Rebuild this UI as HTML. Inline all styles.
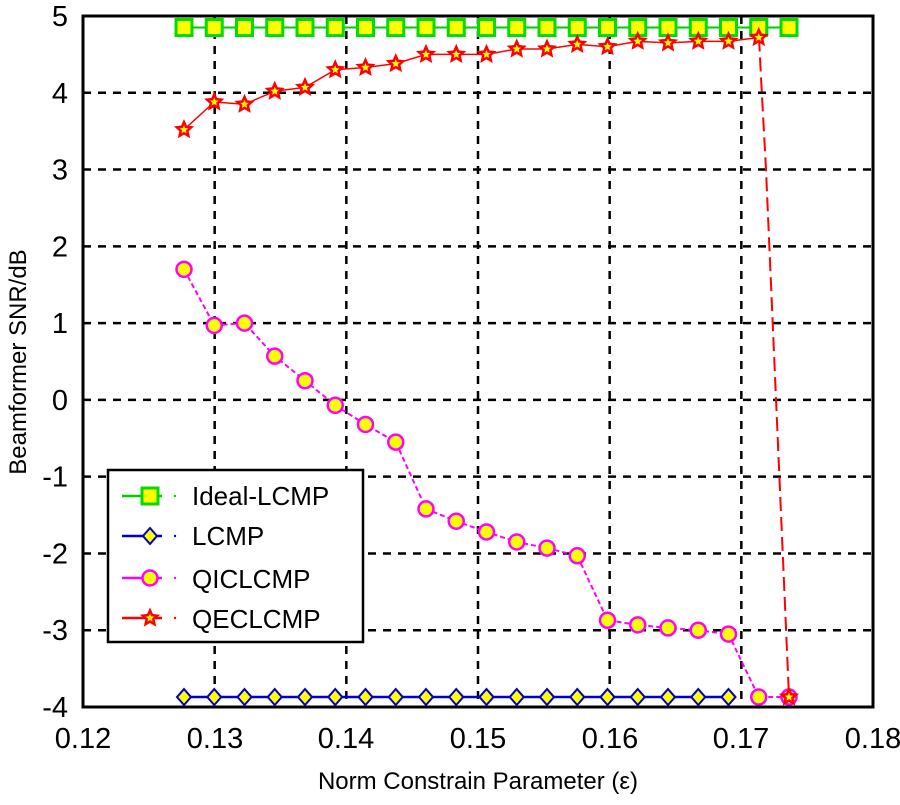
<!DOCTYPE html>
<html><head><meta charset="utf-8"><style>
html,body{margin:0;padding:0;background:#fff;}
svg text{font-family:"Liberation Sans",sans-serif;fill:#000;}
</style></head><body>
<svg id="s" width="900" height="800" viewBox="0 0 900 800" xmlns="http://www.w3.org/2000/svg">
<rect width="900" height="800" fill="#fff"/>
<g id="grid" stroke="#000" stroke-width="2.5" stroke-dasharray="8,7"></g>
<g id="data"></g>
<rect x="83" y="16" width="790" height="691" fill="none" stroke="#000" stroke-width="3"/>
<g id="yl" font-size="29" text-anchor="end"></g>
<g font-size="29" text-anchor="middle">
<text x="83" y="748">0.12</text><text x="215" y="748">0.13</text><text x="346" y="748">0.14</text>
<text x="478" y="748">0.15</text><text x="610" y="748">0.16</text><text x="741" y="748">0.17</text><text x="873" y="748">0.18</text>
</g>
<text x="478" y="789" font-size="24" text-anchor="middle">Norm Constrain Parameter (ε)</text>
<text transform="translate(26,362) rotate(-90)" font-size="24" text-anchor="middle">Beamformer SNR/dB</text>
<g id="leg">
<rect x="108" y="470" width="255" height="172" fill="#fff" stroke="#000" stroke-width="2.5"/>
<text x="192" y="505" font-size="26">Ideal-LCMP</text>
<text x="192" y="545" font-size="26">LCMP</text>
<text x="192" y="588" font-size="26">QICLCMP</text>
<text x="192" y="628" font-size="26">QECLCMP</text>
</g>
</svg>
<script>
const NS="http://www.w3.org/2000/svg";
function el(p,t,a){const e=document.createElementNS(NS,t);for(const k in a)e.setAttribute(k,a[k]);p.appendChild(e);return e;}
const X=v=>83+(v-0.12)/0.06*790, Y=v=>16+(5-v)*76.78;
const g=document.getElementById('grid'), d=document.getElementById('data'), yl=document.getElementById('yl');
for(let i=1;i<6;i++){const x=83+i*790/6;el(g,'line',{x1:x,x2:x,y1:16,y2:707});}
for(let v=-3;v<=4;v++){el(g,'line',{x1:83,x2:873,y1:Y(v),y2:Y(v)});}
for(let v=-4;v<=5;v++){const t=el(yl,'text',{x:68,y:Y(v)+10});t.textContent=v;}
const xs=[];for(let i=0;i<21;i++)xs.push(184+i*30.25);
const ideal=xs.map(x=>[x,Y(4.85)]);
const lcmp=xs.slice(0,19).map(x=>[x,Y(-3.87)]);
const qv=[1.7,0.97,1.0,0.57,0.25,-0.07,-0.32,-0.55,-1.42,-1.58,-1.72,-1.85,-1.93,-2.03,-2.87,-2.93,-2.97,-3.0,-3.05,-3.87,-3.87];
const qic=qv.map((v,i)=>[xs[i],Y(v)]);
const ev=[3.52,3.88,3.85,4.02,4.07,4.3,4.33,4.38,4.5,4.5,4.5,4.57,4.57,4.63,4.6,4.67,4.65,4.67,4.67,4.72];
const qec=ev.map((v,i)=>[xs[i],Y(v)]);
function line(pts,c,w,da){el(d,'polyline',{points:pts.map(p=>p.join(',')).join(' '),fill:'none',stroke:c,'stroke-width':w,'stroke-dasharray':da||'none'});}
function sq(p,x,y){el(p,'rect',{x:x-8,y:y-8,width:16,height:16,fill:'#ff0',stroke:'#0d0','stroke-width':3});}
function dia(p,x,y){el(p,'polygon',{points:`${x},${y-8} ${x+7},${y} ${x},${y+8} ${x-7},${y}`,fill:'#ff0',stroke:'#00c','stroke-width':2});}
function cir(p,x,y){el(p,'circle',{cx:x,cy:y,r:7.5,fill:'#ff0',stroke:'#f0f','stroke-width':2.5});}
function star(p,x,y){let s='';for(let k=0;k<10;k++){const r=k%2?3.5:7.5,a=-Math.PI/2+k*Math.PI/5;s+=(x+r*Math.cos(a))+','+(y+r*Math.sin(a))+' ';}el(p,'polygon',{points:s,fill:'#ff0',stroke:'#f00','stroke-width':2.5});}
line(ideal,'#0c0',2);line(lcmp,'#00c',2.5);line(qic,'#f0f',2,'5,3');
line(qec,'#f00',1.5);
line([[759,Y(4.72)],[761,Y(4.2)],[766,Y(3)],[789,Y(-3.87)]],'#f00',2,'14,6');
ideal.forEach(p=>sq(d,...p));lcmp.forEach(p=>dia(d,...p));qic.forEach(p=>cir(d,...p));qec.forEach(p=>star(d,...p));
star(d,789,Y(-3.87));
const L=document.getElementById('leg');
const ly=[496,536,578,618],lc=['#0c0','#00c','#f0f','#f00'],lf=[sq,dia,cir,star];
ly.forEach((y,i)=>{el(L,'line',{x1:122,x2:162,y1:y,y2:y,stroke:lc[i],'stroke-width':2.5});el(L,'circle',{cx:175,cy:y,r:1.2,fill:lc[i]});lf[i](L,150,y);});
</script>
</body></html>
